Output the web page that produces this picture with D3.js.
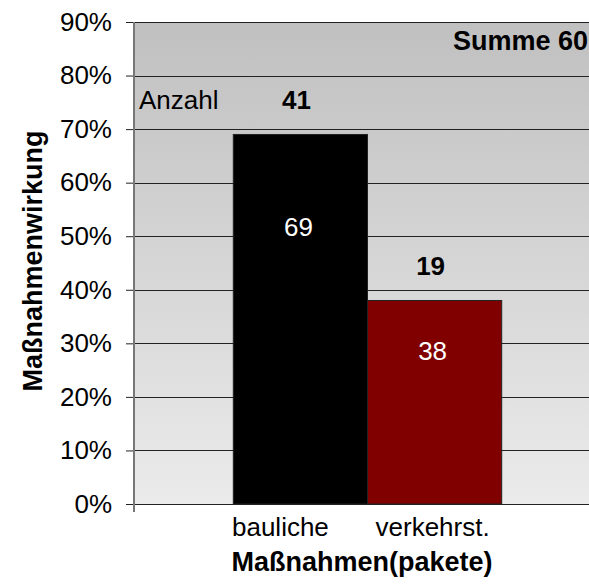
<!DOCTYPE html>
<html>
<head>
<meta charset="utf-8">
<script src="https://cdn.jsdelivr.net/npm/d3@7"></script>
<style>
  body { margin: 0; background: #fff; }
  text { font-family: "Liberation Sans", Arial, sans-serif; }
</style>
</head>
<body>
<div class="canvas"></div>
<script>
// chart values
const categories = ['bauliche', 'verkehrst.'];
const wirkung = [69, 38];        // Maßnahmenwirkung in %
const anzahl = [41, 19];         // Anzahl
const summe = 60;
const yTicks = [0, 10, 20, 30, 40, 50, 60, 70, 80, 90];
const barColors = ['#000000', '#800000'];
const labelShift = [-20, -2];    // category labels sit a bit left of the bar centres

const width = 589, height = 585;
const plot = { left: 134, top: 22, right: 601, bottom: 504 };

const svg = d3.select('.canvas')
  .append('svg')
   .attr('width', width)
   .attr('height', height);

// background gradient of the plot area
const grad = svg.append('defs').append('linearGradient')
  .attr('id', 'bg')
  .attr('x1', 0).attr('y1', 0).attr('x2', 0).attr('y2', 1);
grad.append('stop').attr('offset', '0%').attr('stop-color', '#c0c0c0');
grad.append('stop').attr('offset', '100%').attr('stop-color', '#ebebeb');

const y = d3.scaleLinear()
  .domain([0, 90])
  .range([plot.bottom, plot.top]);

const x = d3.scaleBand()
  .domain(categories)
  .range([plot.left, plot.right])
  .paddingInner(0)
  .paddingOuter(0.74);

svg.append('rect')
  .attr('x', plot.left)
  .attr('y', plot.top)
  .attr('width', plot.right - plot.left)
  .attr('height', plot.bottom - plot.top)
  .attr('fill', 'url(#bg)');

// gridlines
svg.append('g')
  .selectAll('line')
  .data(yTicks)
  .enter()
  .append('line')
   .attr('x1', plot.left)
   .attr('x2', plot.right)
   .attr('y1', d => Math.round(y(d)) + 0.5)
   .attr('y2', d => Math.round(y(d)) + 0.5)
   .attr('stroke', '#222')
   .attr('stroke-width', 1);

// bars
const data = categories.map((c, i) => ({ name: c, value: wirkung[i], count: anzahl[i], color: barColors[i], shift: labelShift[i] }));

svg.append('g')
  .selectAll('rect')
  .data(data)
  .enter()
  .append('rect')
   .attr('x', d => x(d.name))
   .attr('y', d => y(d.value))
   .attr('width', x.bandwidth())
   .attr('height', d => plot.bottom - y(d.value))
   .attr('fill', d => d.color)
   .attr('stroke', '#222')
   .attr('stroke-width', 1);

// y axis
const yAxis = d3.axisLeft(y)
  .tickValues(yTicks)
  .tickSize(8)
  .tickPadding(14)
  .tickFormat(d => d + '%');

const yAxisGroup = svg.append('g')
  .attr('transform', `translate(${plot.left}, 0)`)
  .call(yAxis);

yAxisGroup.select('.domain').remove();
yAxisGroup.selectAll('line').attr('stroke', '#222');
yAxisGroup.selectAll('text')
  .style('font-size', '26px')
  .attr('fill', '#000');

svg.append('line')
  .attr('x1', plot.left).attr('x2', plot.left)
  .attr('y1', plot.top).attr('y2', plot.bottom + 8)
  .attr('stroke', '#777')
  .attr('stroke-width', 2);

// x axis labels
const xLabels = svg.append('g')
  .selectAll('text')
  .data(data)
  .enter()
  .append('text')
   .attr('x', d => x(d.name) + x.bandwidth() / 2 + d.shift)
   .attr('y', 536)
   .attr('text-anchor', 'middle')
   .style('font-size', '26px')
   .text(d => d.name);

// value labels inside the bars
svg.append('g')
  .selectAll('text')
  .data(data)
  .enter()
  .append('text')
   .attr('x', d => x(d.name) + x.bandwidth() / 2 - 2)
   .attr('y', d => y(d.value * 0.75))
   .attr('dy', '0.35em')
   .attr('text-anchor', 'middle')
   .attr('fill', '#fff')
   .style('font-size', '26px')
   .text(d => d.value);

// counts above the bars
svg.append('g')
  .selectAll('text')
  .data(data)
  .enter()
  .append('text')
   .attr('x', d => x(d.name) + x.bandwidth() / 2 - 4)
   .attr('y', d => y(d.value) - 25)
   .attr('text-anchor', 'middle')
   .attr('fill', '#000')
   .style('font-size', '26px')
   .style('font-weight', 'bold')
   .text(d => d.count);

svg.append('text')
  .attr('x', plot.left + 5)
  .attr('y', y(data[0].value) - 25)
  .style('font-size', '26px')
  .text('Anzahl');

svg.append('text')
  .attr('x', 588)
  .attr('y', 50)
  .attr('text-anchor', 'end')
  .style('font-size', '27px')
  .style('font-weight', 'bold')
  .text('Summe ' + summe);

// axis titles
svg.append('text')
  .attr('transform', `translate(42, 261) rotate(-90)`)
  .attr('text-anchor', 'middle')
  .style('font-size', '27px')
  .style('font-weight', 'bold')
  .text('Maßnahmenwirkung');

svg.append('text')
  .attr('x', 362)
  .attr('y', 571)
  .attr('text-anchor', 'middle')
  .style('font-size', '27px')
  .style('font-weight', 'bold')
  .text('Maßnahmen(pakete)');
</script>
</body>
</html>
